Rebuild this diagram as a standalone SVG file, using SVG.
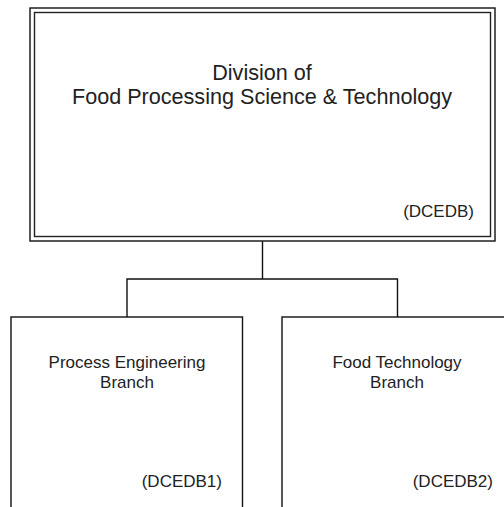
<svg xmlns="http://www.w3.org/2000/svg" width="504" height="507" viewBox="0 0 504 507">
<style>
.box{fill:#fff;stroke:#111;stroke-width:1.4}
.dbl{fill:none;stroke:#222;stroke-width:1.4}
.conn{fill:none;stroke:#111;stroke-width:1.4}
text{font-family:"Liberation Sans",Arial,sans-serif;fill:#222}
.t{font-size:21.6px;text-anchor:middle}
.c{font-size:17px;text-anchor:end}
.b{font-size:17px;text-anchor:middle}
</style>
<rect width="504" height="507" fill="#fff"/>
<g id="connectors">
<path class="conn" d="M262.5 241V279M127 317V279H397.5V317"/>
</g>
<g id="division">
<rect class="box" x="30" y="8" width="465" height="233"/>
<rect class="dbl" x="34.5" y="12.5" width="456" height="224"/>
<text class="t" x="262" y="80">Division of</text>
<text class="t" x="262" y="104">Food Processing Science &amp; Technology</text>
<text class="c" x="474" y="217">(DCEDB)</text>
</g>
<g id="branch1">
<rect class="box" x="11" y="317" width="231.5" height="210"/>
<text class="b" x="127" y="368">Process Engineering</text>
<text class="b" x="127" y="388">Branch</text>
<text class="c" x="222" y="487">(DCEDB1)</text>
</g>
<g id="branch2">
<rect class="box" x="282" y="317" width="240" height="210"/>
<text class="b" x="397" y="368">Food Technology</text>
<text class="b" x="397" y="388">Branch</text>
<text class="c" x="493" y="487">(DCEDB2)</text>
</g>
</svg>
